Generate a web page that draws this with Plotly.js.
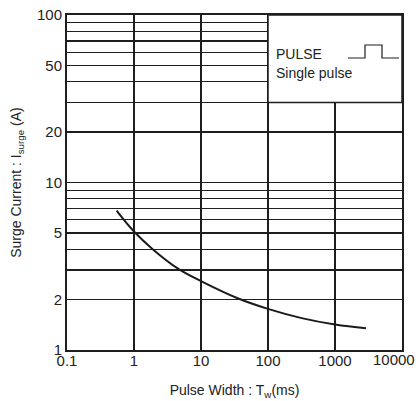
<!DOCTYPE html>
<html>
<head>
<meta charset="utf-8">
<script src="https://cdn.plot.ly/plotly-3.0.1.min.js"></script>
<style>html,body{margin:0;padding:0;background:#fff;}#chart{width:419px;height:401px;}</style>
</head>
<body>
<div id="chart"></div>
<script>
// Pulse width (ms) and surge current (A)
const pulseWidth = [0.55, 1, 1.9, 4.6, 10, 36, 100, 318, 1000, 2900];
const surgeCurrent = [6.8, 5.1, 4.0, 3.05, 2.58, 2.03, 1.76, 1.55, 1.42, 1.35];

const xTickVals = [0.1, 1, 10, 100, 1000];
const xTickText = ["0.1", "1", "10", "100", "1000"];
const xLastLabel = "10000";
const yTickVals = [1, 2, 5, 10, 20, 50, 100];
const yTickText = ["1", "2", "5", "10", "20", "50", "100"];
const yGridVals = [2,3,4,5,6,7,8,9,10,20,30,40,50,60,70,80,90];

const fam = "Liberation Sans, Arial, sans-serif";
const txt = "#222";

const trace = {
  x: pulseWidth, y: surgeCurrent, type: "scatter", mode: "lines",
  line: {color: "#1a1a1a", width: 2, shape: "spline", smoothing: 1.1},
  hoverinfo: "skip", showlegend: false
};

const toDx = px => (px - 67) / 335;
const toDy = py => (350 - py) / 335;
// legend box: covers x 100..10000, y 30..100 (domain coordinates)
const boxX0 = 3/5, boxY0 = Math.log10(30)/2;
const pulsePath = "M" + toDx(348) + "," + toDy(58) + " L" + toDx(365) + "," + toDy(58) +
  " L" + toDx(365) + "," + toDy(45) + " L" + toDx(382) + "," + toDy(45) +
  " L" + toDx(382) + "," + toDy(58) + " L" + toDx(399) + "," + toDy(58);

const layout = {
  width: 419, height: 401,
  margin: {l: 67, r: 17, t: 15, b: 51},
  paper_bgcolor: "#fff", plot_bgcolor: "#fff",
  font: {family: fam, size: 15, color: txt},
  xaxis: {
    type: "log", range: [-1, 4], tickmode: "array", tickvals: xTickVals, ticktext: xTickText,
    showgrid: true, gridcolor: "#1e1e1e", gridwidth: 1.2,
    showline: true, mirror: true, linecolor: "#1e1e1e", linewidth: 2,
    ticks: "", zeroline: false, tickfont: {family: fam, size: 15, color: txt},
    ticklabelstandoff: -4,
    title: {text: "Pulse Width : T<sub>w</sub>(ms)", font: {family: fam, size: 14, color: txt}, standoff: 17},
    automargin: false
  },
  yaxis: {
    type: "log", range: [0, 2], tickmode: "array", tickvals: yTickVals, ticktext: yTickText,
    showgrid: true, gridcolor: "#1e1e1e", gridwidth: 1.2,
    minor: {tickmode: "array", tickvals: yGridVals, showgrid: true, gridcolor: "#1e1e1e", gridwidth: 1.2, ticks: ""},
    showline: true, mirror: true, linecolor: "#1e1e1e", linewidth: 2,
    ticks: "", zeroline: false, tickfont: {family: fam, size: 15, color: txt},
    title: {text: "Surge Current : I<sub>surge</sub> (A)", font: {family: fam, size: 14, color: txt}, standoff: 12},
    automargin: false
  },
  shapes: [
    {type: "rect", xref: "paper", yref: "paper", x0: boxX0, x1: 1, y0: boxY0, y1: 1,
     fillcolor: "#fff", line: {color: "#1e1e1e", width: 1.5}, layer: "above"},
    {type: "path", xref: "paper", yref: "paper", path: pulsePath,
     line: {color: "#1e1e1e", width: 1.2}, layer: "above"}
  ],
  annotations: [
    {text: "PULSE", xref: "paper", yref: "paper", x: toDx(274), y: toDy(54), xanchor: "left", yanchor: "middle",
     showarrow: false, font: {family: fam, size: 14, color: txt}},
    {text: "Single pulse", xref: "paper", yref: "paper", x: toDx(274), y: toDy(73), xanchor: "left", yanchor: "middle",
     showarrow: false, font: {family: fam, size: 14, color: txt}},
    {text: xLastLabel, xref: "paper", yref: "paper", x: 1, y: 0, xanchor: "right", yanchor: "top",
     xshift: 15, yshift: 1, showarrow: false, font: {family: fam, size: 15, color: txt}}
  ]
};

Plotly.newPlot("chart", [trace], layout, {displayModeBar: false, staticPlot: true});
</script>
</body>
</html>
